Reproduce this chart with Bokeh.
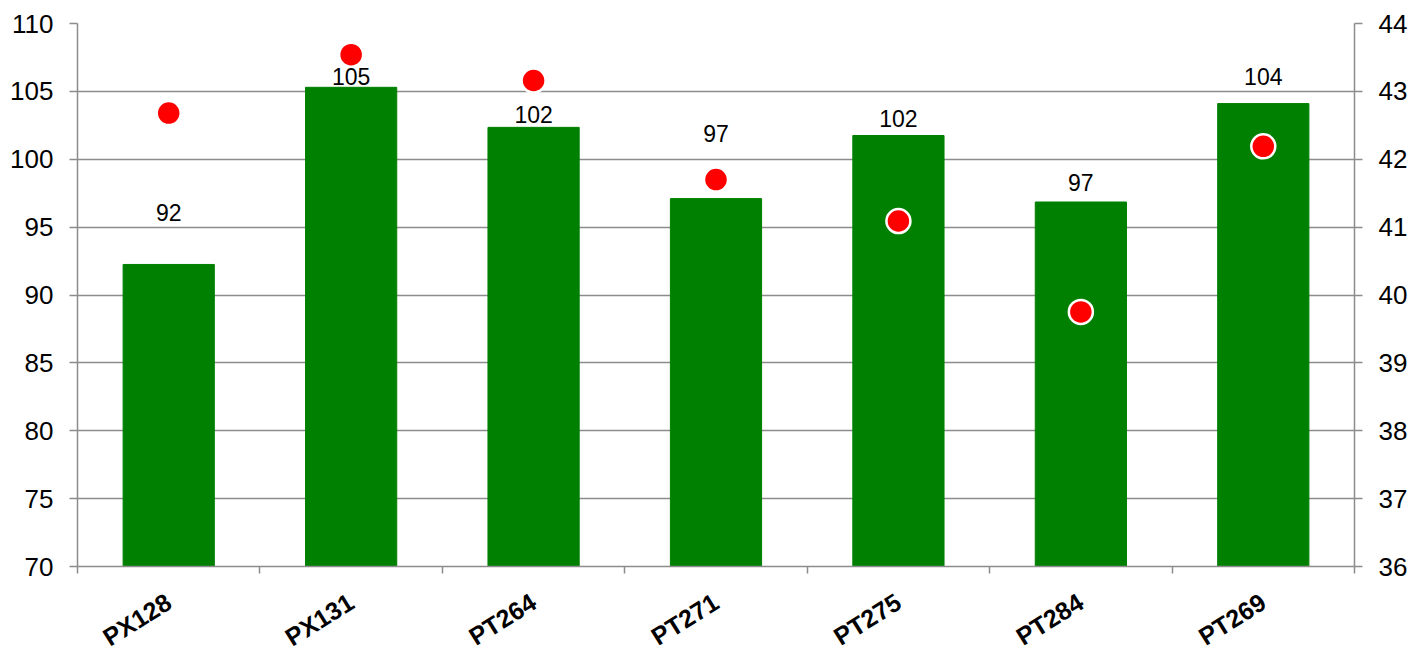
from bokeh.plotting import figure
from bokeh.models import (Range1d, LinearAxis, FixedTicker, ColumnDataSource)
from bokeh.core.properties import value
from bokeh.embed import file_html
from bokeh.resources import INLINE

# ---- data ----
categories = ["PX128", "PX131", "PT264", "PT271", "PT275", "PT284", "PT269"]
bar_values = [92.25, 105.3, 102.35, 97.1, 101.75, 96.85, 104.1]
bar_labels = ["92", "105", "102", "97", "102", "97", "104"]
dot_values = [42.68, 43.54, 43.16, 41.70, 41.09, 39.75, 42.19]
left_ticks = [70, 75, 80, 85, 90, 95, 100, 105, 110]
right_ticks = [36, 37, 38, 39, 40, 41, 42, 43, 44]

# label positions (manually placed in the original chart), left-axis units
label_pos = [96.1, 106.1, 103.3, 101.9, 103.0, 98.3, 106.1]

GRAY = "#8c8c8c"
FONT = "Liberation Sans"

n = len(categories)
centers = [i + 0.5 for i in range(n)]
bounds = list(range(n + 1))

src = ColumnDataSource(dict(x=centers, val=bar_values, lab=bar_labels,
                            lpos=label_pos, dot=dot_values))

p = figure(x_range=Range1d(0, n),
           y_range=Range1d(70, 110),
           frame_width=1277, frame_height=543,
           min_border_left=77, min_border_right=70,
           min_border_top=23, min_border_bottom=82,
           output_backend="svg", toolbar_location=None,
           x_axis_location=None, y_axis_location=None)
p.outline_line_color = None
p.background_fill_color = "white"
p.border_fill_color = "white"

p.extra_y_ranges = {"right": Range1d(36, 44)}

# left / right axes
ly = LinearAxis(ticker=FixedTicker(ticks=left_ticks))
ry = LinearAxis(y_range_name="right", ticker=FixedTicker(ticks=right_ticks))
for ax in (ly, ry):
    ax.axis_line_color = GRAY
    ax.axis_line_width = 1.5
    ax.major_tick_line_color = GRAY
    ax.major_tick_line_width = 1.5
    ax.major_tick_out = 8
    ax.major_tick_in = 0
    ax.minor_tick_line_color = None
    ax.major_label_text_font = FONT
    ax.major_label_text_font_size = "26px"
    ax.major_label_text_color = "black"
    ax.major_label_standoff = 16
p.add_layout(ly, "left")
p.add_layout(ry, "right")

# bottom category axis: labels at centres, tick marks (minor) at boundaries
cx = LinearAxis(ticker=FixedTicker(ticks=centers, minor_ticks=bounds),
                major_label_overrides={c: name for c, name in zip(centers, categories)})
cx.axis_line_color = GRAY
cx.axis_line_width = 1.5
cx.major_tick_line_color = None
cx.major_tick_out = 0
cx.major_tick_in = 0
cx.minor_tick_line_color = GRAY
cx.minor_tick_line_width = 1.5
cx.minor_tick_out = 7
cx.minor_tick_in = 0
cx.major_label_orientation = 0.56
cx.major_label_text_font = FONT
cx.major_label_text_font_style = "bold"
cx.major_label_text_font_size = "25px"
cx.major_label_text_color = "black"
cx.major_label_standoff = 26
p.add_layout(cx, "below")

# grid
p.ygrid.ticker = FixedTicker(ticks=left_ticks)
p.ygrid.grid_line_color = GRAY
p.ygrid.grid_line_width = 1.5
p.xgrid.grid_line_color = None

# bars
p.vbar(x="x", top="val", bottom=70, width=0.5, source=src,
       fill_color="#008000", line_color="#008000")

# bar labels
p.text(x="x", y="lpos", text="lab", source=src,
       text_align="center", text_baseline="middle",
       text_font=value(FONT), text_font_size="23px", text_color="black")

# dots on right axis
p.scatter(x="x", y="dot", source=src, y_range_name="right",
          size=24, fill_color="#ff0000", line_color="white", line_width=2.5)

open("out.html", "w").write(file_html(p, INLINE))
